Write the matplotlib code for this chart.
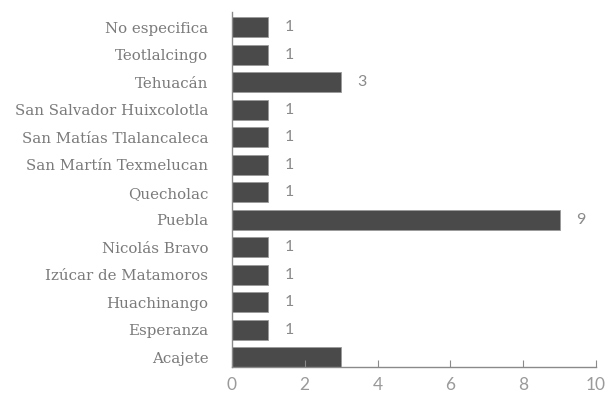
import matplotlib
matplotlib.use('Agg')
import matplotlib.pyplot as plt

# categories listed bottom to top
categories = ['Acajete', 'Esperanza', 'Huachinango', 'Izúcar de Matamoros',
              'Nicolás Bravo', 'Puebla', 'Quecholac', 'San Martín Texmelucan',
              'San Matías Tlalancaleca', 'San Salvador Huixcolotla', 'Tehuacán',
              'Teotlalcingo', 'No especifica']
counts = [3, 1, 1, 1, 1, 9, 1, 1, 1, 1, 3, 1, 1]
show_label = [False] + [True] * 12
xticks = [0, 2, 4, 6, 8, 10]

fig = plt.figure(figsize=(6.07, 3.93), dpi=100)
ax = fig.add_axes([0.382, 0.066, 0.600, 0.903])

pos = list(range(len(categories)))
ax.barh(pos, counts, height=0.73, color='#4a4a4a', edgecolor='#9a9a9a', linewidth=0.6)

for p, v, s in zip(pos, counts, show_label):
    if s:
        ax.text(v + 0.45, p, str(v), va='center', ha='left',
                fontsize=11.5, color='#8a8a8a', family=['Lato', 'DejaVu Sans'])

ax.set_xlim(0, 10)
ax.set_ylim(-0.365, 12.55)
ax.set_xticks(xticks)
ax.set_xticklabels([str(t) for t in xticks], family=['Lato', 'DejaVu Sans'],
                   fontsize=12.5, color='#9a9a9a')
ax.set_yticks(pos)
ax.set_yticklabels(categories, family=['DejaVu Serif'], fontsize=10.8, color='#7a7a7a')

ax.tick_params(axis='y', length=0, pad=17)
ax.tick_params(axis='x', direction='in', length=5, color='#8a8a8a', pad=7)
for side in ['top', 'right']:
    ax.spines[side].set_visible(False)
for side in ['left', 'bottom']:
    ax.spines[side].set_color('#8a8a8a')
    ax.spines[side].set_linewidth(1)

fig.savefig('out.png', dpi=100)
plt.close(fig)
